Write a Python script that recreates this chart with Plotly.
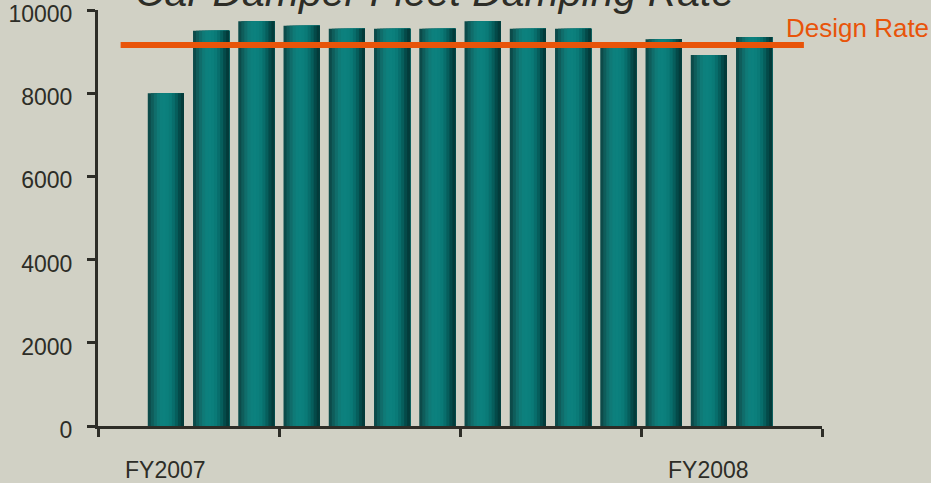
import plotly.graph_objects as go

# ── Data ─────────────────────────────────────────────────────────────
months = list(range(1, 15))           # slot index on a 16-slot FY axis
rates = [8000, 9500, 9730, 9620, 9550, 9550, 9550,
         9730, 9550, 9550, 9150, 9300, 8920, 9350]
design_rate = 9160
design_span = [0.0, 15.1]
fy_labels = ["FY2007", "FY2008"]
fy_slots = [1, 13]
y_ticks = [0, 2000, 4000, 6000, 8000, 10000]
y_tick_text = ["0", "2000", "4000", "6000", "8000", "10000"]
x_ticks = [-0.5, 3.5, 7.5, 11.5, 15.5]

# ── Style ────────────────────────────────────────────────────────────
BG = "#d1d1c5"
TX = "#2d2d27"
OR = "#e8540a"
FONT = "Liberation Sans Narrow, Arial Narrow, Liberation Sans, sans-serif"
BAR_W = 0.8
# cylinder-like shading, left edge -> right edge
SHADES = ["#0c4b4a", "#0f5d5b", "#106d6b", "#0f7a77", "#0d807d", "#0c817e",
          "#0b7f7c", "#0a7a77", "#086e6c", "#065e5c", "#044a49", "#033b3a"]

fig = go.Figure()

# each strip runs from its left edge to the bar's right edge, later ones on top
step = BAR_W / len(SHADES)
for k, col in enumerate(SHADES):
    fig.add_trace(go.Bar(
        x=months,
        y=rates,
        width=BAR_W - k * step,
        offset=-BAR_W / 2 + k * step,
        marker=dict(color=col, line=dict(width=0)),
        hoverinfo="skip",
        showlegend=False,
    ))

fig.add_trace(go.Scatter(
    x=design_span,
    y=[design_rate, design_rate],
    mode="lines",
    line=dict(color=OR, width=6),
    hoverinfo="skip",
    showlegend=False,
))

fig.update_layout(
    width=931, height=483,
    margin=dict(l=98, r=109, t=10, b=57),
    paper_bgcolor=BG, plot_bgcolor=BG,
    barmode="overlay",
    font=dict(family=FONT, size=23, color=TX),
)
fig.update_xaxes(
    range=[-0.5, 15.5],
    tickvals=x_ticks, ticktext=[""] * len(x_ticks),
    ticks="outside", ticklen=8, tickwidth=3, tickcolor=TX,
    showline=True, linewidth=3, linecolor=TX,
    showgrid=False, zeroline=False, automargin=False,
)
fig.update_yaxes(
    range=[0, 10001],
    tickvals=y_ticks, ticktext=y_tick_text,
    ticks="outside", ticklen=8, tickwidth=3, tickcolor=TX,
    ticklabelstandoff=10, ticklabeloverflow="allow", ticklabelshift=4,
    showline=True, linewidth=3, linecolor=TX,
    showgrid=False, zeroline=False, automargin=False,
)

for lbl, slot in zip(fy_labels, fy_slots):
    fig.add_annotation(
        x=slot, xref="x", y=0, yref="paper",
        text=lbl, showarrow=False,
        yanchor="middle", yshift=-44,
        font=dict(family=FONT, size=23, color=TX),
    )

fig.add_annotation(
    x=0.947, xref="paper", y=design_rate, yref="y",
    text="Design Rate", showarrow=False,
    xanchor="left", yanchor="bottom", yshift=0,
    font=dict(family=FONT, size=26, color=OR),
)

# title sits mostly above the page edge, as in the source slide
fig.add_annotation(
    x=0.048, xref="paper", y=1, yref="paper",
    text="<i>Car Damper Fleet Damping Rate</i>", showarrow=False,
    xanchor="left", yanchor="bottom", yshift=-7,
    font=dict(family="Liberation Sans, Arial, sans-serif", size=41, color=TX),
)

fig.write_html(
    "out.html",
    config={"displayModeBar": False},
    post_script="document.body.style.margin='0';",
)
